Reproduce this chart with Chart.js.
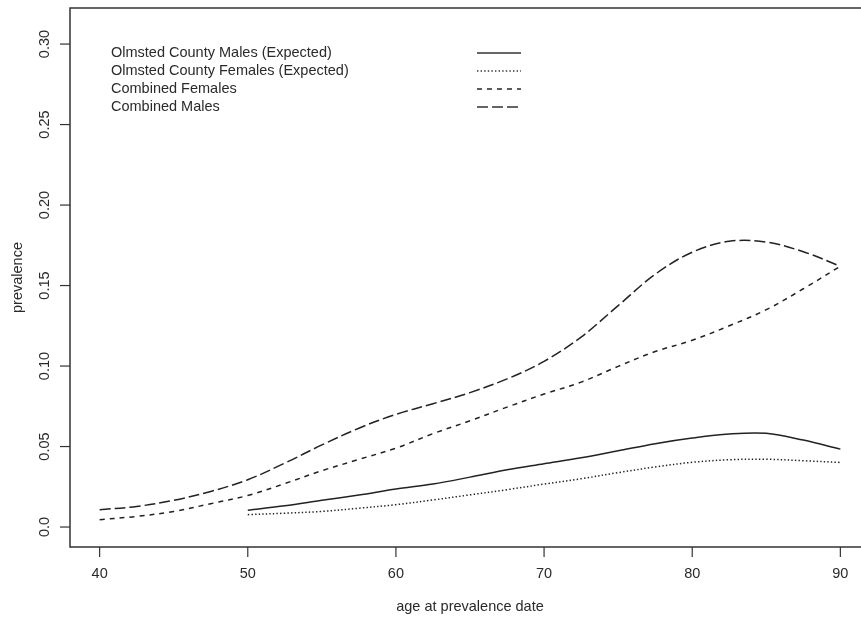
<!DOCTYPE html>
<html>
<head>
<meta charset="utf-8">
<script src="https://cdn.jsdelivr.net/npm/chart.js@4"></script>
<style>
  html, body { margin: 0; padding: 0; background: #fff; overflow: hidden; }
</style>
</head>
<body>
<canvas id="chart" width="880" height="620"></canvas>
<script>
// ages along the x axis
const ages = [40, 42.5, 45, 47.5, 50, 52.5, 55, 57.5, 60, 62.5, 65, 67.5, 70, 72.5, 75, 77.5, 80, 82.5, 85, 87.5, 90];

// Olmsted series only start at 50
const olmstedMales   = [null, null, null, null, 0.0104, 0.0132, 0.0166, 0.0199, 0.0236, 0.0267, 0.0310, 0.0356, 0.0393, 0.0430, 0.0474, 0.0518, 0.0553, 0.0578, 0.0582, 0.0540, 0.0484];
const olmstedFemales = [null, null, null, null, 0.0077, 0.0086, 0.0097, 0.0117, 0.0139, 0.0168, 0.0200, 0.0232, 0.0267, 0.0300, 0.0338, 0.0373, 0.0402, 0.0418, 0.0421, 0.0412, 0.0401];
const combinedFemales = [0.0046, 0.0066, 0.0097, 0.0145, 0.0196, 0.0270, 0.0350, 0.0420, 0.0490, 0.0580, 0.0660, 0.0745, 0.0826, 0.0900, 0.0998, 0.1090, 0.1160, 0.1250, 0.1350, 0.1480, 0.1620];
const combinedMales   = [0.0108, 0.0128, 0.0166, 0.0221, 0.0294, 0.0397, 0.0510, 0.0614, 0.0700, 0.0766, 0.0835, 0.0920, 0.1029, 0.1180, 0.1375, 0.1570, 0.1707, 0.1775, 0.1770, 0.1710, 0.1620];

const xTicks = [40, 50, 60, 70, 80, 90];
const yTicks = [0, 0.05, 0.10, 0.15, 0.20, 0.25, 0.30];
const yTickLabels = ['0.0', '0.05', '0.10', '0.15', '0.20', '0.25', '0.30'];

const legendLabels = [
  'Olmsted County Males (Expected)',
  'Olmsted County Females (Expected)',
  'Combined Females',
  'Combined Males'
];

const INK = '#222';
const FONT = '14.5px "Liberation Sans", Arial, sans-serif';
const dashes = [[], [1.4, 2.2], [5, 5], [11, 4]];

function points(values) {
  return ages.map((a, i) => ({ x: a, y: values[i] }));
}

function makeSet(label, values, dash) {
  return {
    label: label,
    data: points(values),
    borderColor: INK,
    borderWidth: 1.5,
    borderDash: dash,
    pointRadius: 0,
    fill: false,
    tension: 0.35,
    spanGaps: false
  };
}

// R-style box, ticks, labels and legend
const rAxes = {
  id: 'rAxes',
  afterDraw(chart) {
    const ctx = chart.ctx;
    const area = chart.chartArea;
    const xs = chart.scales.x;
    const ys = chart.scales.y;
    ctx.save();
    ctx.strokeStyle = '#333';
    ctx.lineWidth = 1.5;
    ctx.setLineDash([]);
    ctx.strokeRect(area.left, area.top, area.right - area.left, area.bottom - area.top);

    ctx.fillStyle = '#2a2a2a';
    ctx.font = FONT;
    ctx.lineWidth = 1.2;

    // x axis
    ctx.textAlign = 'center';
    ctx.textBaseline = 'middle';
    xTicks.forEach(v => {
      const px = xs.getPixelForValue(v);
      ctx.beginPath();
      ctx.moveTo(px, area.bottom);
      ctx.lineTo(px, area.bottom + 10);
      ctx.stroke();
      ctx.fillText(String(v), px, 574);
    });

    // y axis
    yTicks.forEach((v, i) => {
      const py = ys.getPixelForValue(v);
      ctx.beginPath();
      ctx.moveTo(area.left, py);
      ctx.lineTo(area.left - 10, py);
      ctx.stroke();
      ctx.save();
      ctx.translate(45, py);
      ctx.rotate(-Math.PI / 2);
      ctx.fillText(yTickLabels[i], 0, 0);
      ctx.restore();
    });

    // axis titles
    ctx.fillText('age at prevalence date', (area.left + 870) / 2, 607);
    ctx.save();
    ctx.translate(18, (area.top + area.bottom) / 2);
    ctx.rotate(-Math.PI / 2);
    ctx.fillText('prevalence', 0, 0);
    ctx.restore();

    // legend
    ctx.textAlign = 'left';
    legendLabels.forEach((label, i) => {
      const y = 53 + i * 18;
      ctx.fillText(label, 111, y);
      ctx.beginPath();
      ctx.setLineDash(dashes[i]);
      ctx.lineWidth = 1.6;
      ctx.moveTo(477, y);
      ctx.lineTo(521, y);
      ctx.stroke();
    });
    ctx.restore();
  }
};

new Chart(document.getElementById('chart'), {
  type: 'line',
  data: {
    datasets: [
      makeSet(legendLabels[0], olmstedMales, dashes[0]),
      makeSet(legendLabels[1], olmstedFemales, dashes[1]),
      makeSet(legendLabels[2], combinedFemales, dashes[2]),
      makeSet(legendLabels[3], combinedMales, dashes[3])
    ]
  },
  options: {
    responsive: false,
    devicePixelRatio: 1,
    animation: false,
    layout: { padding: { left: 70, top: 8, right: 10, bottom: 73 } },
    plugins: {
      legend: { display: false },
      tooltip: { enabled: false }
    },
    scales: {
      x: { type: 'linear', min: 38, max: 92, display: false },
      y: { type: 'linear', min: -0.0124, max: 0.3224, display: false }
    }
  },
  plugins: [rAxes]
});
</script>
</body>
</html>
